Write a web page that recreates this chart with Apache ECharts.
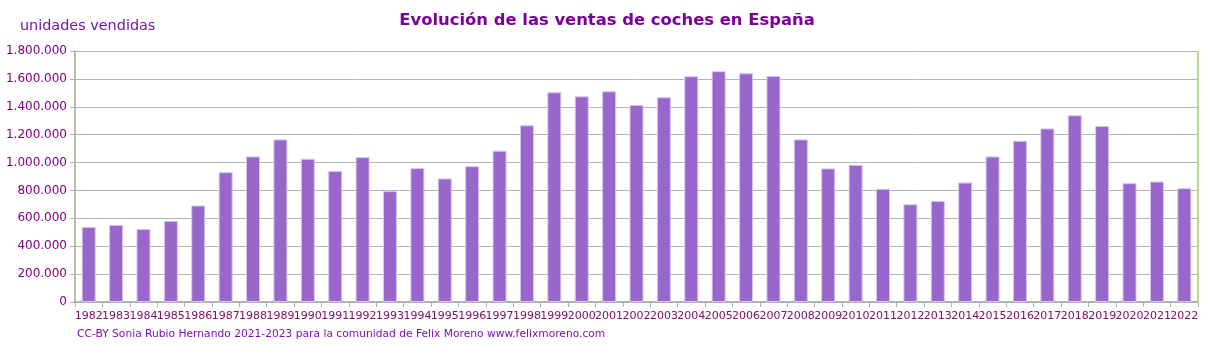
<!DOCTYPE html>
<html>
<head>
<meta charset="utf-8">
<script src="https://cdn.jsdelivr.net/npm/echarts@6/dist/echarts.min.js"></script>
<style>html,body{margin:0;padding:0;background:#fff}#c{width:1214px;height:347px}</style>
</head>
<body>
<div id="c"></div>
<script>
const years = ['1982','1983','1984','1985','1986','1987','1988','1989','1990','1991','1992','1993','1994','1995','1996','1997','1998','1999','2000','2001','2002','2003','2004','2005','2006','2007','2008','2009','2010','2011','2012','2013','2014','2015','2016','2017','2018','2019','2020','2021','2022'];
const sales = [538000,553000,524000,582000,692000,931000,1044000,1166000,1027000,939000,1039000,795000,960000,886000,974000,1085000,1267000,1504000,1475000,1511000,1413000,1468000,1619000,1655000,1640000,1621000,1166000,958000,984000,812000,701000,725000,857000,1044000,1156000,1245000,1339000,1262000,852000,864000,816000];
const yTicks = [0,200000,400000,600000,800000,1000000,1200000,1400000,1600000,1800000];
const titleText = 'Evolución de las ventas de coches en España';
const yLabel = 'unidades vendidas';
const footer = 'CC-BY Sonia Rubio Hernando 2021-2023 para la comunidad de Felix Moreno www.felixmoreno.com';

const fmt = v => String(v).replace(/\B(?=(\d{3})+(?!\d))/g, '.');
const chart = echarts.init(document.getElementById('c'), null, {renderer: 'canvas'});
chart.setOption({
  animation: false,
  backgroundColor: '#fff',
  textStyle: {fontFamily: 'DejaVu Sans'},
  title: [
    {text: titleText, left: 'center', top: 13, padding: 0, textStyle: {fontFamily: 'DejaVu Sans', fontWeight: 'bold', fontSize: 16.4, color: '#7a0099'}},
    {text: yLabel, left: 20, top: 19, padding: 0, textStyle: {fontFamily: 'DejaVu Sans', fontWeight: 'normal', fontSize: 14.4, color: '#8010a8'}},
    {text: footer, left: 77, top: 329, padding: 0, textStyle: {fontFamily: 'DejaVu Sans', fontWeight: 'normal', fontSize: 10.7, color: '#8010b0'}}
  ],
  grid: {left: 75, right: 16, top: 51, bottom: 45, containLabel: false, show: false},
  xAxis: {
    type: 'category', data: years, boundaryGap: true,
    axisLine: {lineStyle: {color: '#b0b0b0', width: 2}},
    axisTick: {show: true, alignWithLabel: false, interval: 0, length: 5, lineStyle: {color: '#b0b0b0'}},
    axisLabel: {interval: 0, fontSize: 11, color: '#80106a', margin: 9, fontFamily: 'DejaVu Sans'}
  },
  yAxis: {
    type: 'value', min: 0, max: 1800000, interval: 200000,
    axisLine: {show: true, lineStyle: {color: '#b8c0a8', width: 2}},
    axisTick: {show: true, length: 5, lineStyle: {color: '#b0b0b0'}},
    axisLabel: {fontSize: 12, color: '#800080', margin: 8, formatter: v => yTicks.includes(v) ? fmt(v) : '', fontFamily: 'DejaVu Sans'},
    splitLine: {show: true, lineStyle: {color: '#b4b4b4', width: 1}}
  },
  series: [{
    type: 'bar', data: sales, barWidth: 14,
    itemStyle: {color: '#9966cc', borderColor: '#d6c4ee', borderWidth: 1}
  }]
});
const plotTop = chart.convertToPixel({yAxisIndex: 0}, 1800000);
const plotBottom = chart.convertToPixel({yAxisIndex: 0}, 0);
const rightX = 1214 - 16;
chart.setOption({graphic: [{type: 'line', shape: {x1: rightX, y1: plotTop, x2: rightX, y2: plotBottom}, style: {stroke: '#b8d890', lineWidth: 2}, z: 10}]});
</script>
</body>
</html>
